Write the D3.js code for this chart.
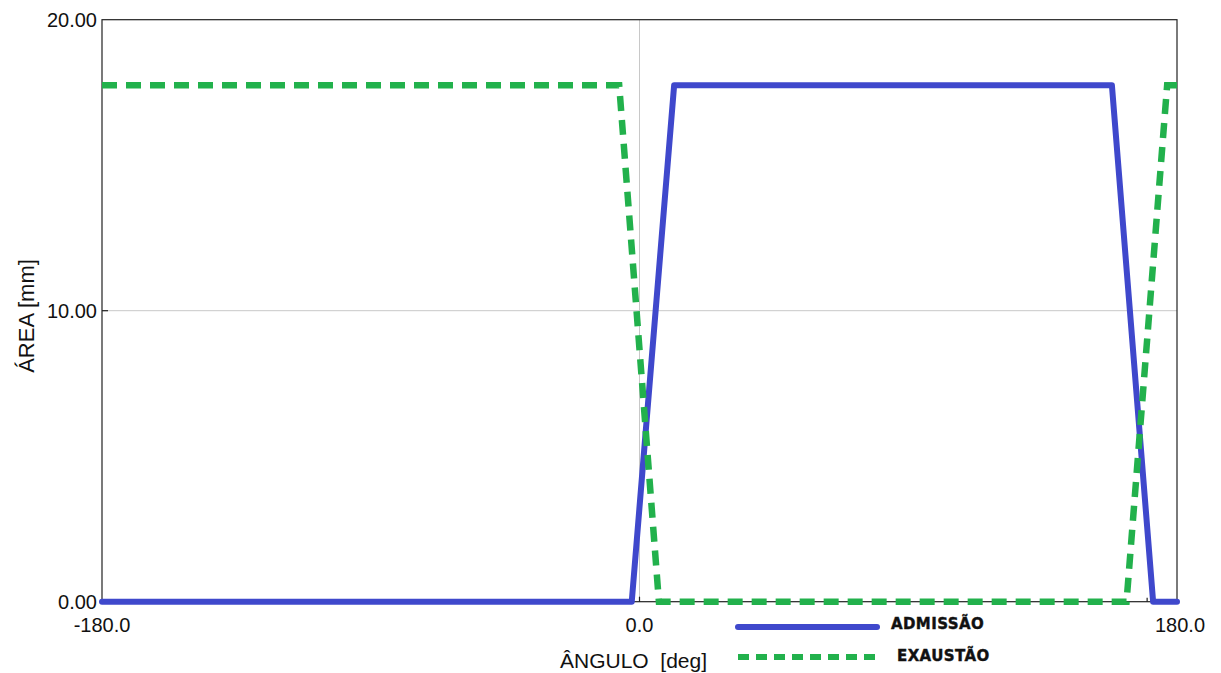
<!DOCTYPE html>
<html>
<head>
<meta charset="utf-8">
<script src="https://cdn.jsdelivr.net/npm/d3@7"></script>
<style>
  html, body { margin: 0; padding: 0; background: #fff; }
  svg { display: block; }
  text { font-family: "Liberation Sans", Arial, sans-serif; fill: #111; }
</style>
</head>
<body>
<svg id="chart" width="1221" height="673"></svg>
<script>
// Valve flow area vs crank angle
const admissaoAngle = [-180, -2.6, 11.6, 158.2, 172.0, 180];
const admissaoArea  = [0, 0, 17.75, 17.75, 0, 0];
const exaustaoAngle = [-180, -6.8, 6.5, 163.1, 176.7, 180];
const exaustaoArea  = [17.75, 17.75, 0, 0, 17.75, 17.75];

const xTicks = [-180, 0, 180];
const yTicks = [0, 10, 20];
const seriesNames = ["ADMISSÃO", "EXAUSTÃO"];
const seriesColors = ["#3f48cc", "#22b14c"];

const svg = d3.select("#chart");
const plotLeft = 102, plotRight = 1177, plotTop = 19.7, plotBottom = 601.7;

const x = d3.scaleLinear().domain([-180, 180]).range([plotLeft, plotRight]);
const y = d3.scaleLinear().domain([0, 20]).range([plotBottom, plotTop]);

// plain hyphen for negative numbers
const fmt1 = d3.formatLocale({ decimal: ".", thousands: ",", grouping: [3], currency: ["", ""], minus: "-" }).format(".1f");
const fmt2 = d3.format(".2f");

// grid lines
svg.append("g").selectAll("line")
  .data([0]).join("line")
  .attr("x1", d => x(d)).attr("x2", d => x(d))
  .attr("y1", plotTop).attr("y2", plotBottom)
  .attr("stroke", "#c8c8c8").attr("stroke-width", 1);
svg.append("g").selectAll("line")
  .data([10]).join("line")
  .attr("x1", plotLeft).attr("x2", plotRight)
  .attr("y1", d => y(d)).attr("y2", d => y(d))
  .attr("stroke", "#c8c8c8").attr("stroke-width", 1);

// frame
svg.append("rect")
  .attr("x", plotLeft).attr("y", plotTop)
  .attr("width", plotRight - plotLeft).attr("height", plotBottom - plotTop)
  .attr("fill", "none").attr("stroke", "#222").attr("stroke-width", 1.2);

// small inner ticks
svg.append("line")
  .attr("x1", plotLeft).attr("x2", plotLeft + 6)
  .attr("y1", y(10)).attr("y2", y(10))
  .attr("stroke", "#222").attr("stroke-width", 1.2);
svg.append("line")
  .attr("x1", x(0)).attr("x2", x(0))
  .attr("y1", plotBottom).attr("y2", plotBottom - 5)
  .attr("stroke", "#222").attr("stroke-width", 1.2);
svg.append("line")
  .attr("x1", x(170)).attr("x2", x(170))
  .attr("y1", plotBottom).attr("y2", plotBottom - 4)
  .attr("stroke", "#222").attr("stroke-width", 1.2);

// y tick labels
svg.append("g").selectAll("text")
  .data(yTicks).join("text")
  .attr("x", plotLeft - 5)
  .attr("y", d => y(d) + 7)
  .attr("text-anchor", "end")
  .attr("font-size", 20)
  .text(d => fmt2(d));

// x tick labels
svg.append("g").selectAll("text")
  .data(xTicks).join("text")
  .attr("x", d => x(d) + (d === 180 ? 3 : 0))
  .attr("y", 632)
  .attr("text-anchor", "middle")
  .attr("font-size", 20)
  .text(d => fmt1(d));

// axis titles
svg.append("text")
  .attr("x", 560).attr("y", 668)
  .attr("font-size", 21)
  .style("white-space", "pre")
  .text("ÂNGULO  [deg]");
svg.append("text")
  .attr("transform", "translate(34,316) rotate(-90)")
  .attr("text-anchor", "middle")
  .attr("font-size", 22)
  .text("ÁREA [mm]");

// series
const line = d3.line().x(d => x(d[0])).y(d => y(d[1]));
const admissao = admissaoAngle.map((a, i) => [a, admissaoArea[i]]);
const exaustao = exaustaoAngle.map((a, i) => [a, exaustaoArea[i]]);

svg.append("path")
  .datum(admissao)
  .attr("d", line)
  .attr("fill", "none")
  .attr("stroke", seriesColors[0])
  .attr("stroke-width", 6)
  .attr("stroke-linejoin", "round")
  .attr("stroke-linecap", "round");

svg.append("path")
  .datum(exaustao)
  .attr("d", line)
  .attr("fill", "none")
  .attr("stroke", seriesColors[1])
  .attr("stroke-width", 6.5)
  .attr("stroke-dasharray", "15,9")
  .attr("stroke-linejoin", "miter");

// legend
const legend = svg.append("g");
const legendRows = [
  { name: seriesNames[0], color: seriesColors[0], dash: null, ly: 627, ty: 629, tx: 891 },
  { name: seriesNames[1], color: seriesColors[1], dash: "11,7", ly: 657, ty: 661, tx: 897 }
];
legendRows.forEach(r => {
  legend.append("line")
    .attr("x1", 738).attr("x2", 877)
    .attr("y1", r.ly).attr("y2", r.ly)
    .attr("stroke", r.color)
    .attr("stroke-width", 6)
    .attr("stroke-linecap", r.dash ? "butt" : "round")
    .attr("stroke-dasharray", r.dash);
  legend.append("text")
    .attr("x", r.tx).attr("y", r.ty)
    .attr("font-weight", "bold")
    .attr("font-size", 15)
    .attr("letter-spacing", 0.4)
    .attr("stroke", "#111")
    .attr("stroke-width", 0.4)
    .style("font-family", "'DejaVu Sans', sans-serif")
    .text(r.name);
});
</script>
</body>
</html>
